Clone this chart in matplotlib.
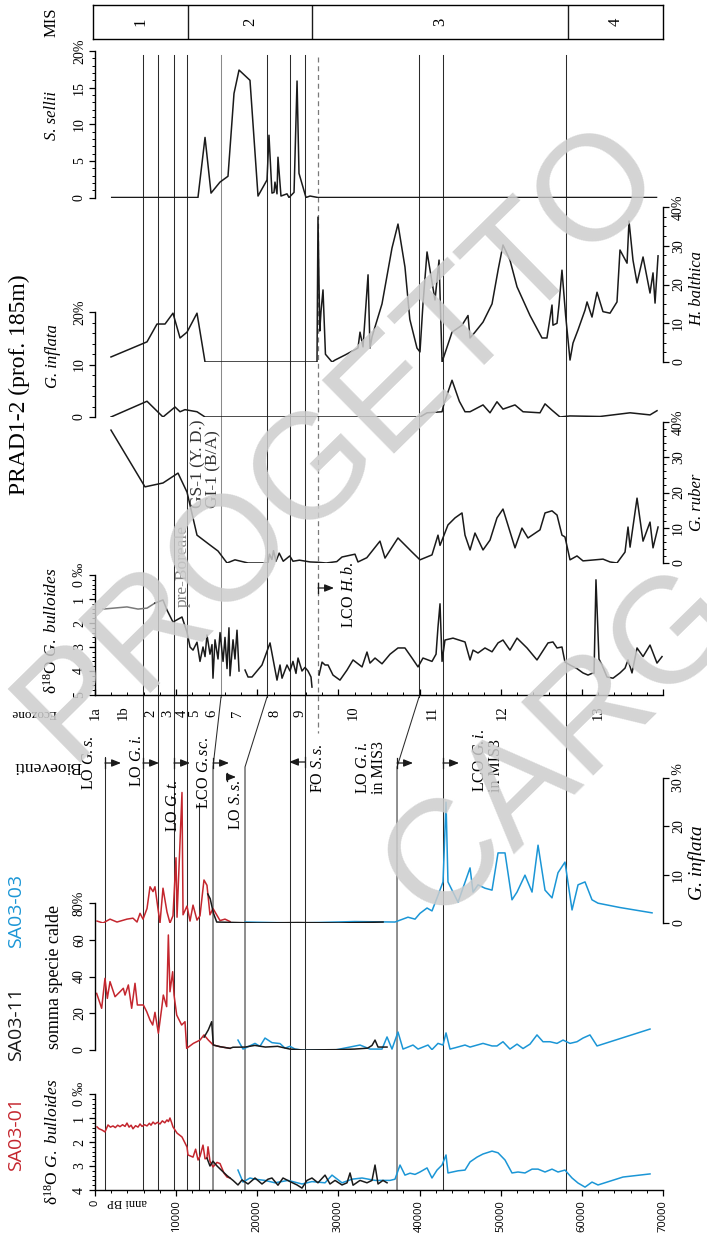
import matplotlib
matplotlib.use("Agg")
import matplotlib.pyplot as plt
import numpy as np
from matplotlib.ticker import MultipleLocator, FixedLocator

plt.rcParams.update({
    "font.family": ["Liberation Serif", "DejaVu Serif"],
    "mathtext.fontset": "custom",
    "mathtext.rm": "Liberation Serif",
    "mathtext.it": "Liberation Serif:italic",
    "mathtext.bf": "Liberation Serif:bold",
    "axes.linewidth": 0.9,
})

SANS = ["Open Sans", "DejaVu Sans"]
RED = "#c4262e"
BLUE = "#1b96d6"
INK = "#1a1a1a"

# ---------------------------------------------------------------- data
# Marine isotope stages
mis_bounds = [0, 11700, 26900, 58300, 70000]
mis_names = ["1", "2", "3", "4"]

# PRAD1-2 : S. sellii (%)
sel_age = [2060, 12690, 13560, 14300, 15400, 16390, 17130, 17750, 19100, 20090,
           21200, 21440, 21810, 22060, 22180, 22430, 22550, 22920, 23660, 23910,
           24530, 24900, 25140, 26000, 26500, 27480, 69200]
sel_val = [0, 0, 8.2, 0.6, 2.1, 2.9, 14.2, 17.4, 16.0, 0.2,
           2.4, 8.5, 0.6, 0.7, 2.1, 0.5, 5.5, 0.2, 0.5, 0,
           0.7, 15.9, 3.3, 0, 0.2, 0, 0]

# PRAD1-2 : H. balthica (%)
hb_age = [1970, 6410, 7640, 8630, 9610, 10480, 11340, 12570, 13560,
          27360, 27480, 27700, 27850, 28100, 28400, 29210, 29580, 30810,
          32410, 32660, 33030, 33650, 33890, 34140, 35370, 36600, 37340, 38200,
          38800, 39680, 40050, 40420, 40920, 41900, 42400, 42770,
          44000, 45230, 45970, 46220, 46830, 47820, 48930, 49700, 50280, 51140, 52010, 53610,
          55090, 55700, 56320, 56440, 56940, 57180, 57550, 58000, 58540, 58910,
          59530, 60390, 60640, 61250, 61870, 62600, 63470, 64330, 64700, 65570,
          65810, 66300, 66800, 67540, 68400, 68770, 69020, 69390]
hb_val = [1.3, 5.2, 9.8, 9.8, 12.6, 6.2, 7.7, 12.6, 0,
          0, 37.4, 8, 13, 18.6, 2, 0, 0.5, 1.8,
          3.6, 7.7, 3.9, 22.5, 3.6, 6.5, 15, 29.4, 35.6, 24.5,
          11, 3.6, 2.6, 15, 28.4, 16, 26.3, 0,
          7.7, 9.5, 12, 6.2, 7.7, 10.3, 15, 24, 30.2, 26.3, 19.4, 12,
          6.2, 6.2, 14.7, 9.5, 10, 14.7, 23.7, 12, 0.5, 4.9,
          8.3, 13.4, 15.5, 11.6, 18, 13, 12.6, 15.5, 28.9, 25.5,
          36.4, 26.3, 20.4, 27.1, 17.8, 23, 15.2, 27.4]

# PRAD1-2 : G. inflata (%)
gi_age = [1970, 6410, 8380, 9860, 10480, 11090, 12570, 13560,
          40050, 40920, 42770, 43000, 44000, 44900, 45600, 46220,
          47820, 48680, 49540, 50280, 51760, 52750, 54840, 55460, 56320, 57310,
          58540, 62240, 65940, 68400, 69260]
gi_val = [0, 3, 0, 1.9, 1, 1.4, 1, 0,
          0, 0.8, 1, 2.5, 7, 3, 1, 1,
          2.3, 0.8, 2.9, 1.5, 2.3, 1, 0.8, 2.5, 1.3, 0,
          0.2, 0.1, 0.8, 0.4, 1.2]

# PRAD1-2 : G. ruber (%)
gr_age = [1970, 6160, 8380, 10230, 11340, 12570, 14170, 15160, 16270, 17250,
          18860, 21320, 21500, 21800, 22000, 22300, 22700, 23200, 24000, 24400,
          25200, 26500, 27500, 28500, 29800, 30440, 32040, 32410, 33500, 35120,
          35740, 37340, 39070, 40050, 41530, 42270, 42520, 43500, 44370, 45230,
          45600, 46220, 46830, 47820, 48680, 49540, 50280, 51760, 52620, 53360,
          54840, 55460, 56320, 56940, 57550, 57920, 58540, 59400, 60140, 62610,
          63470, 64330, 65320, 65690, 65940, 66800, 67540, 68400, 68770, 69390]
gr_val = [37.7, 21.6, 22.7, 25.5, 20.1, 7.9, 5.1, 3.4, 0, 0.9,
          0, 0, 2.5, 1, 3.5, 0.5, 2.8, 0.5, 2, 0.5,
          0.8, 0.3, 0.2, 0, 0.4, 1.7, 2.5, 0.3, 1.5, 6.2,
          1.4, 7.1, 3.1, 0.9, 2.3, 7.9, 5, 10.8, 12.8, 14.2,
          7.9, 3.7, 8.5, 3.7, 6.5, 12.8, 15.3, 4.3, 9.9, 7.1,
          9.4, 14.2, 14.8, 13.6, 7.9, 7.4, 0.9, 2, 0.6, 1.1,
          0.3, 0, 3.1, 10.2, 4.5, 18.4, 6.2, 11.6, 4.3, 10.2]

# PRAD1-2 : d18O G. bulloides (permil), three recovered intervals
pd1_age = [990, 3940, 5300, 6410, 7390, 8380, 8870, 9610, 10720, 11340,
           11710, 12080, 12570, 12940, 13310, 13560, 13800, 14170, 14420, 14540,
           14790, 15160, 15410, 15780, 16020, 16270, 16510, 16640, 17010, 17250,
           17500, 17750]
pd1_val = [1.42, 1.33, 1.42, 1.38, 1.17, 1.04, 1.46, 1.96, 1.75, 2.38,
           3.0, 3.13, 2.8, 3.6, 3.0, 3.4, 2.5, 3.3, 2.9, 4.3,
           2.7, 3.5, 2.4, 3.6, 2.6, 3.9, 2.2, 4.2, 2.7, 3.5,
           2.3, 4.0]
pd2_age = [18490, 18860, 19350, 20580, 21570, 22430, 22800, 23050, 23660, 24030,
           24400, 24770, 25020, 25510, 25880, 26250, 26620, 26740]
pd2_val = [3.96, 4.25, 4.25, 3.75, 2.83, 4.38, 3.75, 4.3, 3.75, 4.0,
           3.6, 4.1, 3.46, 4.0, 3.85, 4.0, 4.25, 4.67]
pd3_age = [27610, 27980, 28350, 28720, 29330, 30190, 31060, 31800, 32910, 33520,
           33890, 34510, 35370, 36360, 37340, 38200, 39070, 39810, 40420, 41530,
           42030, 42270, 42520, 42770, 43130, 44120, 45600, 46220, 46590, 47200,
           48060, 48930, 49670, 50280, 51140, 52010, 53240, 54470, 55830, 56440,
           56940, 57550, 57920, 58540, 59400, 60140, 60760, 61370, 61500, 61740,
           62110, 62480, 63100, 63840, 64700, 65320, 65690, 66180, 66800, 67540,
           68400, 69260, 69880]
pd3_val = [4.17, 3.63, 3.75, 3.75, 4.17, 4.38, 3.96, 3.54, 3.83, 3.21,
           3.67, 3.46, 3.7, 3.3, 3.04, 3.04, 3.46, 3.83, 3.46, 3.6,
           3.3, 2.17, 1.2, 3.6, 2.71, 2.63, 2.79, 3.54, 3.13, 3.25,
           3.04, 3.2, 2.83, 2.71, 3.13, 2.63, 3.04, 3.54, 2.83, 2.79,
           3.04, 3.0, 3.63, 3.75, 3.9, 4.08, 4.17, 4.08, 4.1, 0.2,
           3.5, 3.75, 4.25, 4.3, 4.08, 3.88, 3.54, 4.08, 3.04, 3.4,
           2.92, 3.67, 3.4]

# SA03 cores : G. inflata (%)
sa01_ginf_age = [250, 990, 1850, 2710, 3940, 4680, 5180, 5550, 5920, 6410,
                 6780, 7150, 7390, 7760, 8010, 8380, 8870, 9240, 9610, 9980,
                 10110, 10720, 10850, 11340, 11710, 12080, 12570, 12940, 13430, 13800,
                 14170, 14540, 15410, 16020, 16640]
sa01_ginf_val = [0.4, 0, 0.8, 0.2, 0.8, 1, 0.2, 2, 0.8, 3,
                 7.5, 6.5, 7.5, 3, 0, 7.2, 2.3, 0, 1.5, 13.5,
                 1.2, 27, 1.7, 3.5, 0.4, 3.7, 0.6, 1.5, 8.9, 7.8,
                 1.7, 3, 0.5, 0.8, 0.3]
sa11_ginf_age = [13900, 14200, 14600, 15000, 20000, 25000, 30000, 35500]
sa11_ginf_val = [6, 5, 2, 0.2, 0, 0.1, 0, 0.2]
sa03_ginf_age = [18500, 25000, 32000, 36970, 38570, 39440, 40050, 40920, 41530, 42150,
                 42890, 43260, 43500, 44740, 46220, 46590, 47200, 48060, 48930, 49670,
                 50530, 51390, 52010, 52990, 53860, 54600, 55460, 56320, 57060, 57920,
                 58790, 59530, 60390, 61250, 61990, 64700, 68650]
sa03_ginf_val = [0.2, 0, 0.3, 0.2, 1.2, 0.8, 2, 3.1, 2.5, 5.2,
                 8.5, 25, 8.5, 4.3, 11.4, 6.4, 7.9, 7.2, 6.8, 14.5,
                 14.5, 4.8, 6.4, 9.9, 6.4, 16.1, 6.8, 5.2, 10.4, 12.6,
                 2.7, 7.9, 8.5, 4.8, 4.1, 3.2, 2.1]

# SA03 cores : sum of warm-water species (%)
sa01_warm_age = [205, 820, 1230, 1520, 1850, 2470, 3080, 3490, 3700, 4110,
                 4520, 4930, 5220, 5960, 6370, 6780, 7110, 7390, 7810, 8220,
                 8420, 8830, 9040, 9240, 9570, 9740, 10070, 10680, 11090, 11300,
                 12120, 12940, 13430, 13970, 14580, 15410, 16640]
sa01_warm_val = [30.8, 22.7, 39.0, 28.1, 37.2, 29.0, 31.7, 33.6, 29.9, 35.4,
                 22.7, 36.3, 24.5, 24.5, 20.9, 16.3, 13.6, 20.5, 9.1, 22.7,
                 29.9, 23.6, 62.6, 31.7, 42.6, 29.9, 19.0, 13.6, 15.4, 0.9,
                 3.6, 5.4, 8.2, 5.4, 2.7, 1.8, 0.9]
sa11_warm_age = [13450, 13970, 14380, 14580, 15410, 16640, 17000, 18500, 19700, 21000,
                 22500, 24000, 25600, 30000, 32000, 33600, 34140, 34510, 34880, 35990]
sa11_warm_val = [7, 11, 15.4, 2.7, 1.8, 0.9, 1.5, 1.6, 2.5, 1.6,
                 2.0, 0.5, 0, 0.2, 0.5, 1.0, 2.5, 5.4, 1.6, 1.6]
sa03_warm_age = [17620, 18240, 19720, 20330, 20950, 21810, 22800, 23420, 24030, 24650,
                 25510, 29580, 32660, 33890, 35370, 35990, 36600, 37340, 37960, 39190,
                 39810, 41040, 41530, 42270, 42890, 43260, 43750, 44370, 45600, 46220,
                 47820, 48930, 49540, 50280, 51140, 52010, 52750, 53610, 54470, 55210,
                 56070, 56940, 57680, 58540, 59400, 60140, 61000, 61870, 68400]
sa03_warm_val = [5.4, 0.5, 3.6, 2, 6.5, 4, 3.5, 1, 2, 0.5,
                 0, 0, 2.7, 0.5, 0.5, 7.1, 0.5, 9.8, 0.5, 2.7,
                 0.5, 2.7, 0.2, 3.6, 2.7, 9.3, 0.5, 1.2, 2.7, 1.6,
                 3.6, 2.2, 2.2, 4.5, 0.5, 3.2, 0.8, 3.2, 8.2, 4.5,
                 4.5, 3.6, 5.4, 3.6, 4.5, 6.5, 8.2, 2.2, 11.4]

# SA03 cores : d18O G. bulloides (permil)
sa01_d18o_age = [250, 500, 860, 1230, 1600, 1900, 2220, 2500, 2800, 3080,
                 3400, 3700, 3940, 4200, 4450, 4680, 5000, 5300, 5550, 5800,
                 6100, 6410, 6700, 6900, 7150, 7400, 7700, 8010, 8300, 8600,
                 8870, 9050, 9240, 9450, 9610, 10110, 10720, 11090, 11340, 11460,
                 12080, 12400, 12700, 12940, 13310, 13560, 13800, 13930, 14170, 14540,
                 15040, 15410, 15900, 16270, 16640]
sa01_d18o_val = [1.37, 1.45, 1.5, 1.58, 1.29, 1.38, 1.33, 1.4, 1.3, 1.36,
                 1.28, 1.35, 1.21, 1.38, 1.3, 1.45, 1.32, 1.38, 1.25, 1.35,
                 1.28, 1.33, 1.22, 1.3, 1.17, 1.25, 1.18, 1.25, 1.12, 1.2,
                 1.08, 1.15, 1.0, 1.2, 1.37, 1.63, 1.79, 2.04, 2.21, 2.54,
                 2.63, 2.3, 2.75, 2.6, 2.13, 2.7, 2.67, 2.2, 2.8, 3.04,
                 2.85, 2.9, 3.3, 3.46, 3.5]
sa11_d18o_age = [13800, 14170, 14540, 15040, 15650, 16270, 17010, 17620, 18120, 18860,
                 19720, 20580, 21320, 21810, 22550, 23170, 24030, 24900, 25510, 26130,
                 26740, 27480, 28350, 28960, 29580, 30440, 31060, 31430, 31800, 32660,
                 33520, 34140, 34510, 34880, 35490, 35990]
sa11_d18o_val = [2.67, 3.0, 2.8, 3.0, 3.2, 3.4, 3.6, 3.79, 3.58, 3.75,
                 3.5, 3.75, 3.55, 3.5, 3.8, 3.5, 3.65, 3.79, 3.92, 3.6,
                 3.5, 3.7, 3.38, 3.75, 3.6, 3.79, 3.7, 3.29, 3.8, 3.6,
                 3.7, 3.6, 2.96, 3.75, 3.6, 3.7]
sa03_d18o_age = [17620, 18240, 19100, 19720, 20950, 22180, 23790, 25510, 26740, 28350,
                 29210, 30440, 31670, 32910, 34510, 35370, 36360, 36970, 37590, 38200,
                 38820, 39440, 40050, 40920, 41530, 42150, 42770, 43260, 43500, 44740,
                 45600, 46220, 47080, 47820, 48930, 49670, 50530, 51390, 52130, 52990,
                 53860, 54600, 55460, 56320, 57060, 57920, 58790, 59530, 60390, 61250,
                 61990, 65070, 68400]
sa03_d18o_val = [3.17, 3.67, 3.5, 3.55, 3.6, 3.7, 3.6, 3.75, 3.65, 3.7,
                 3.38, 3.7, 3.55, 3.5, 3.6, 3.6, 3.6, 3.55, 2.96, 3.38,
                 3.3, 3.35, 3.25, 3.08, 3.5, 3.17, 2.96, 2.54, 3.29, 3.2,
                 3.17, 2.83, 2.63, 2.5, 2.38, 2.45, 2.75, 3.29, 3.25, 3.29,
                 3.13, 3.13, 3.25, 3.13, 3.25, 3.17, 3.5, 3.71, 3.88, 3.67,
                 3.79, 3.46, 3.33]

# correlation lines: age in PRAD1-2 and matching age in the SA03 cores
corr_prad = [5916, 7764, 9736, 11338, 15529, 21198, 24033, 25881, 39931, 42889, 58048]
corr_sa = [5916, 7764, 9736, 11338, 14543, 18486, 24033, 25881, 37220, 42889, 58048]
corr_grey = [False, False, False, False, True, False, False, False, False, False, False]
sa_only_lines = [1232, 12817]
fo_ss_age = 27483

ecozone_names = ["1a", "1b", "2", "3", "4", "5", "6", "7", "8", "9", "10", "11", "12", "13"]
ecozone_mid = [0, 3450, 6900, 9000, 10720, 12320, 14420, 17500, 22180, 25260, 31800, 41530, 50160, 61990]

# ---------------------------------------------------------------- layout
W, H = 707, 1236
X0, X1 = 95, 663
AGE_MAX = 70000
PX_AGE = AGE_MAX / (X1 - X0)

fig = plt.figure(figsize=(W / 100, H / 100), dpi=100)


def rect(top, bottom, left=X0, right=X1):
    return [left / W, 1 - bottom / H, (right - left) / W, (bottom - top) / H]


def ftext(px, py, s, **kw):
    kw.setdefault("ha", "center")
    kw.setdefault("va", "center")
    return fig.text(px / W, 1 - py / H, s, **kw)


def panel(top, bottom, ylim, side, major, labels, minor=None, size=10):
    ax = fig.add_axes(rect(top, bottom), zorder=2)
    ax.set_xlim(0, AGE_MAX)
    ax.set_ylim(*ylim)
    ax.patch.set_visible(False)
    for sp in ax.spines.values():
        sp.set_visible(False)
    ax.spines[side].set_visible(True)
    ax.spines[side].set_linewidth(1.0)
    ax.set_xticks([])
    if side == "left":
        ax.yaxis.tick_left()
    else:
        ax.yaxis.tick_right()
    ax.yaxis.set_major_locator(FixedLocator(major))
    if minor:
        ax.yaxis.set_minor_locator(MultipleLocator(minor))
    ax.tick_params(axis="y", which="major", direction="out", length=4.5, width=0.9, pad=2)
    ax.tick_params(axis="y", which="minor", direction="out", length=2.5, width=0.7)
    ax.set_yticklabels(labels, rotation=90, va="center",
                       ha="right" if side == "left" else "left", fontsize=size)
    return ax


def time_axis(ax, outward, show_labels):
    ax.spines["bottom"].set_visible(True)
    ax.spines["bottom"].set_linewidth(1.0)
    ax.xaxis.set_major_locator(MultipleLocator(10000))
    ax.xaxis.set_minor_locator(MultipleLocator(2000))
    d = "out" if outward else "in"
    ax.tick_params(axis="x", which="major", direction=d, length=4, width=0.9, pad=3)
    ax.tick_params(axis="x", which="minor", direction=d, length=2.5, width=0.7)
    if show_labels:
        ticks = np.arange(0, AGE_MAX + 1, 10000)
        ax.set_xticks(ticks)
        ax.set_xticklabels([f"{t:d}" for t in ticks], rotation=90, ha="center", va="top",
                           fontsize=8, family=SANS)
    else:
        ax.set_xticklabels([])


# overlay in (age, pixel-row) space for correlation lines and event markers
ov = fig.add_axes(rect(0, H), zorder=1)
ov.set_xlim(0, AGE_MAX)
ov.set_ylim(H, 0)
ov.axis("off")

for a_up, a_lo, grey in zip(corr_prad, corr_sa, corr_grey):
    ov.plot([a_up, a_up], [55, 697], color="#8a8a8a" if grey else "#2b2b2b", lw=0.75)
    ov.plot([a_up, a_lo, a_lo], [697, 767, 1190], color="#2b2b2b", lw=0.75)
ov.plot([sa_only_lines[0]] * 2, [757, 1190], color="#2b2b2b", lw=0.75)
ov.plot([sa_only_lines[1]] * 2, [803, 1190], color="#2b2b2b", lw=0.75)
ov.plot([fo_ss_age] * 2, [57, 733], color="#7a7a7a", lw=0.9, dashes=(4, 3))

for name, age in zip(ecozone_names, ecozone_mid):
    ov.text(age, 713, name, rotation=90, ha="center", va="center", fontsize=10.5)


def bio_arrow(age, row, length_px=16, direction=1, bar=5):
    ov.plot([age, age], [row - bar, row + bar], color=INK, lw=0.9)
    ov.annotate("", xy=(age + direction * length_px * PX_AGE, row), xytext=(age, row),
                arrowprops=dict(arrowstyle="-|>,head_length=0.55,head_width=0.22",
                                color=INK, lw=0.9, shrinkA=0, shrinkB=0))


bio_arrow(1232, 763)
bio_arrow(5916, 763)
bio_arrow(9736, 763)
bio_arrow(14543, 763)
bio_arrow(16268, 777, length_px=9, bar=4)
bio_arrow(25881, 762, direction=-1)
bio_arrow(37220, 763)
bio_arrow(42889, 763)
bio_arrow(27483, 588)

# ---------------------------------------------------------------- MIS strip
mis = fig.add_axes(rect(5, 39, left=93), zorder=2)
mis.set_xlim(0, AGE_MAX)
mis.set_ylim(0, 1)
mis.set_xticks([])
mis.set_yticks([])
for sp in mis.spines.values():
    sp.set_linewidth(1.0)
for b in mis_bounds[1:-1]:
    mis.axvline(b, color=INK, lw=1.0)
for name, a, b in zip(mis_names, mis_bounds[:-1], mis_bounds[1:]):
    mis.text((a + b) / 2, 0.5, name, rotation=90, ha="center", va="center", fontsize=12)

# ---------------------------------------------------------------- PRAD1-2 panels
ax_sel = panel(51, 197.5, (0, 20), "left", [0, 5, 10, 15, 20],
               ["0", "5", "10", "15", "20%"], minor=1)
ax_sel.plot(sel_age, sel_val, color=INK, lw=1.1)

ax_hb = panel(207, 362, (0, 40), "right", [0, 10, 20, 30, 40],
              ["0", "10", "20", "30", "40%"], minor=2.5)
ax_hb.plot(hb_age, hb_val, color=INK, lw=1.1)

ax_gi = panel(312, 417, (0, 20), "left", [0, 10, 20], ["0", "10", "20%"], minor=2)
ax_gi.plot(gi_age, gi_val, color=INK, lw=1.1)

ax_gr = panel(422, 563, (0, 40), "right", [0, 10, 20, 30, 40],
              ["0", "10", "20", "30", "40%"], minor=2)
ax_gr.plot(gr_age, gr_val, color=INK, lw=1.1)

ax_pd = panel(575, 695, (5, 0), "left", [0, 1, 2, 3, 4, 5],
              ["0 ‰", "1", "2", "3", "4", "5"], minor=0.2)
time_axis(ax_pd, outward=False, show_labels=False)
ax_pd.plot(pd1_age[:5], pd1_val[:5], color="#7a7a7a", lw=1.1)
ax_pd.plot(pd1_age[4:], pd1_val[4:], color=INK, lw=1.1)
ax_pd.plot(pd2_age, pd2_val, color=INK, lw=1.1)
ax_pd.plot(pd3_age, pd3_val, color=INK, lw=1.1)

# ---------------------------------------------------------------- SA03 panels
ax_sgi = panel(778, 923, (0, 30), "right", [0, 10, 20, 30], ["0", "10", "20", "30 %"])
ax_sgi.plot(sa03_ginf_age, sa03_ginf_val, color=BLUE, lw=1.1)
ax_sgi.plot(sa01_ginf_age, sa01_ginf_val, color=RED, lw=1.1)
ax_sgi.plot(sa11_ginf_age, sa11_ginf_val, color=INK, lw=1.1)

ax_sw = panel(903, 1050, (0, 80), "left", [0, 20, 40, 60, 80],
              ["0", "20", "40", "60", "80%"])
ax_sw.plot(sa03_warm_age, sa03_warm_val, color=BLUE, lw=1.1)
ax_sw.plot(sa01_warm_age, sa01_warm_val, color=RED, lw=1.1)
ax_sw.plot(sa11_warm_age, sa11_warm_val, color=INK, lw=1.1)

ax_sd = panel(1094, 1190, (4, 0), "left", [0, 1, 2, 3, 4],
              ["0 ‰", "1", "2", "3", "4"], minor=0.2)
time_axis(ax_sd, outward=True, show_labels=True)
ax_sd.plot(sa03_d18o_age, sa03_d18o_val, color=BLUE, lw=1.1)
ax_sd.plot(sa01_d18o_age, sa01_d18o_val, color=RED, lw=1.1)
ax_sd.plot(sa11_d18o_age, sa11_d18o_val, color=INK, lw=1.1)

# ---------------------------------------------------------------- labels
ftext(19, 385, "PRAD1-2 (prof. 185m)", rotation=90, fontsize=17)
ftext(52, 22, "MIS", rotation=90, fontsize=12)
ftext(52, 115, "S. sellii", rotation=90, fontsize=12, style="italic")
ftext(53, 356, "G. inflata", rotation=90, fontsize=12, style="italic")
ftext(52, 631, r"δ$^{18}$O $\mathit{G.\ bulloides}$", rotation=90, fontsize=12.5)
ftext(697, 288, "H. balthica", rotation=90, fontsize=12, style="italic")
ftext(697, 502, "G. ruber", rotation=90, fontsize=12, style="italic")
ftext(697, 863, "G. inflata", rotation=90, fontsize=14, style="italic")
ftext(55, 977, "somma specie calde", rotation=90, fontsize=13)
ftext(53, 1142, r"δ$^{18}$O $\mathit{G.\ bulloides}$", rotation=90, fontsize=12.5)
ftext(16, 1134, "SA03-01", rotation=90, fontsize=14, color=RED, family=SANS)
ftext(16, 1024, "SA03-11", rotation=90, fontsize=14, color=INK, family=SANS)
ftext(16, 911, "SA03-03", rotation=90, fontsize=14, color=BLUE, family=SANS)
ftext(34, 713, "Ecozone", rotation=180, fontsize=9.5)
ftext(48, 766, "Bioeventi", rotation=180, fontsize=12.5)
ftext(127, 1202, "anni BP", rotation=180, fontsize=9)

ftext(183, 566, "pre-Boreale", rotation=90, fontsize=12.5, color="#808080")
ftext(198, 508, "GS-1 (Y. D.)", rotation=90, fontsize=12.5, va="bottom", color="#333333")
ftext(213, 508, "GI-1 (B/A)", rotation=90, fontsize=12.5, va="bottom", color="#333333")
ftext(349, 595, r"LCO $\mathit{H.b.}$", rotation=90, fontsize=11.5)

ftext(89, 763, r"LO $\mathit{G.s.}$", rotation=90, fontsize=11.5)
ftext(137, 761, r"LO $\mathit{G.i.}$", rotation=90, fontsize=11.5)
ftext(173, 806, r"LO $\mathit{G.t.}$", rotation=90, fontsize=11.5)
ftext(204, 773, r"LCO $\mathit{G.sc.}$", rotation=90, fontsize=11.5)
ftext(236, 805, r"LO $\mathit{S.s.}$", rotation=90, fontsize=11.5)
ftext(318, 768, r"FO $\mathit{S.s.}$", rotation=90, fontsize=11.5)
ftext(371, 768, "LO $\\mathit{G.i.}$\nin MIS3", rotation=90, fontsize=11.5,
      multialignment="left", linespacing=1.0)
ftext(488, 760, "LCO $\\mathit{G.i.}$\nin MIS3", rotation=90, fontsize=11.5,
      multialignment="left", linespacing=1.0)

# archive watermark
WM = dict(rotation=44.5, fontsize=108, family=["Liberation Sans", "DejaVu Sans"],
          color="#cdcdcd", alpha=0.85, zorder=20)
ftext(340, 440, "PROGETTO", **WM)
ftext(562, 745, "CARG", **WM)

fig.savefig("out.png", dpi=100)
